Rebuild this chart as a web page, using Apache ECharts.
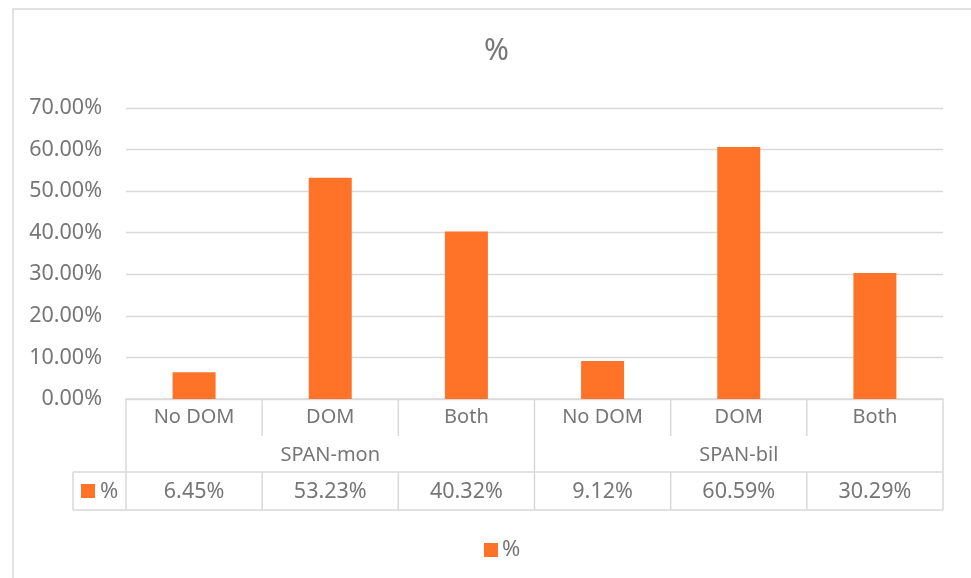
<!DOCTYPE html>
<html>
<head>
<meta charset="utf-8">
<script src="https://cdn.jsdelivr.net/npm/echarts@6/dist/echarts.min.js"></script>
<style>
  html, body { margin: 0; padding: 0; background: #fff; }
  #chart { width: 971px; height: 578px; }
</style>
</head>
<body>
<div id="chart"></div>
<script>
// Share of responses per condition, grouped by speaker group
const categories = ['No DOM', 'DOM', 'Both', 'No DOM', 'DOM', 'Both'];
const groups = ['SPAN-mon', 'SPAN-bil'];
const seriesName = '%';
const values = [6.45, 53.23, 40.32, 9.12, 60.59, 30.29];
const yTicks = [0, 10, 20, 30, 40, 50, 60, 70];

const FONT = '"Noto Sans", sans-serif';
const TEXT = '#767676';
const LINE = '#d9d9d9';
const BAR = '#ff7329';

const pct = v => v.toFixed(2) + '%';

const chart = echarts.init(document.getElementById('chart'), null, { renderer: 'canvas' });

const baseLabel = { color: TEXT, fontFamily: FONT, fontSize: 20 };
const numLabel = { color: TEXT, fontFamily: FONT, fontSize: 21.5 };

chart.setOption({
  animation: false,
  backgroundColor: '#fff',
  title: {
    text: seriesName,
    left: 479,
    top: 31,
    textStyle: { color: TEXT, fontFamily: FONT, fontSize: 30, fontWeight: 'normal' }
  },
  legend: {
    data: [seriesName],
    left: 479,
    top: 534,
    icon: 'rect',
    itemWidth: 14,
    itemHeight: 14,
    itemGap: 5,
    textStyle: { color: TEXT, fontFamily: FONT, fontSize: 22, padding: [0, 0, 0, -1] }
  },
  grid: { left: 126, right: 28, top: 108, bottom: 179, containLabel: false },
  xAxis: [
    {
      type: 'category',
      data: categories,
      position: 'bottom',
      axisLine: { show: true, lineStyle: { color: LINE, width: 1.5 } },
      axisTick: { show: false },
      axisLabel: Object.assign({ margin: 8, interval: 0 }, baseLabel)
    },
    {
      type: 'category',
      data: groups,
      position: 'bottom',
      offset: 37,
      axisLine: { show: false },
      axisTick: { show: false },
      axisLabel: Object.assign({ margin: 9, interval: 0 }, baseLabel)
    },
    {
      type: 'category',
      data: values.map(pct),
      position: 'bottom',
      offset: 73,
      axisLine: { show: false },
      axisTick: { show: false },
      axisLabel: Object.assign({ margin: 9, interval: 0 }, numLabel)
    }
  ],
  yAxis: {
    type: 'value',
    min: yTicks[0],
    max: yTicks[yTicks.length - 1],
    interval: 10,
    axisLine: { show: false },
    axisTick: { show: false },
    splitLine: { lineStyle: { color: LINE, width: 1.3 } },
    axisLabel: Object.assign({ margin: 24, formatter: v => pct(v) }, numLabel)
  },
  series: [{
    name: seriesName,
    type: 'bar',
    xAxisIndex: 0,
    data: values,
    barWidth: 43,
    itemStyle: { color: BAR }
  }]
});

// Data-table grid lines under the category axis, placed from the axis scales
function drawTable() {
  const y0 = chart.convertToPixel({ yAxisIndex: 0 }, 0);
  const half = (chart.convertToPixel({ xAxisIndex: 0 }, 1) - chart.convertToPixel({ xAxisIndex: 0 }, 0)) / 2;
  const bounds = [];
  for (let i = 0; i < categories.length; i++) {
    bounds.push(chart.convertToPixel({ xAxisIndex: 0 }, i) - half);
  }
  bounds.push(chart.convertToPixel({ xAxisIndex: 0 }, categories.length - 1) + half);

  const rowCat = y0 + 37;   // bottom of category row
  const rowGrp = y0 + 73;   // bottom of group row / top of value row
  const rowVal = y0 + 111;  // bottom of value row
  const keyLeft = bounds[0] - 53;
  const per = categories.length / groups.length;

  const ls = { stroke: LINE, lineWidth: 1.5 };
  const els = [];
  const line = (x1, y1, x2, y2) => els.push({ type: 'line', silent: true, shape: { x1, y1, x2, y2 }, style: ls });

  // outer chart frame
  els.push({ type: 'rect', silent: true, shape: { x: 13, y: 9, width: 1200, height: 800 }, style: { fill: null, stroke: LINE, lineWidth: 1.5 } });

  bounds.forEach((x, i) => {
    const full = i % per === 0;
    if (full) {
      line(x, y0, x, rowVal);
    } else {
      line(x, y0, x, rowCat);
      line(x, rowGrp, x, rowVal);
    }
  });
  line(keyLeft, rowGrp, bounds[bounds.length - 1], rowGrp);
  line(keyLeft, rowVal, bounds[bounds.length - 1], rowVal);
  line(keyLeft, rowGrp, keyLeft, rowVal);

  // legend key inside the data table
  const midVal = (rowGrp + rowVal) / 2;
  els.push({ type: 'rect', silent: true, shape: { x: keyLeft + 8, y: midVal - 7, width: 14, height: 14 }, style: { fill: BAR } });
  els.push({ type: 'text', silent: true, x: keyLeft + 27, y: midVal + 1, style: { text: seriesName, fill: TEXT, font: '22px ' + FONT, textVerticalAlign: 'middle', verticalAlign: 'middle' } });

  chart.setOption({ graphic: { elements: els } });
}
drawTable();
</script>
</body>
</html>
